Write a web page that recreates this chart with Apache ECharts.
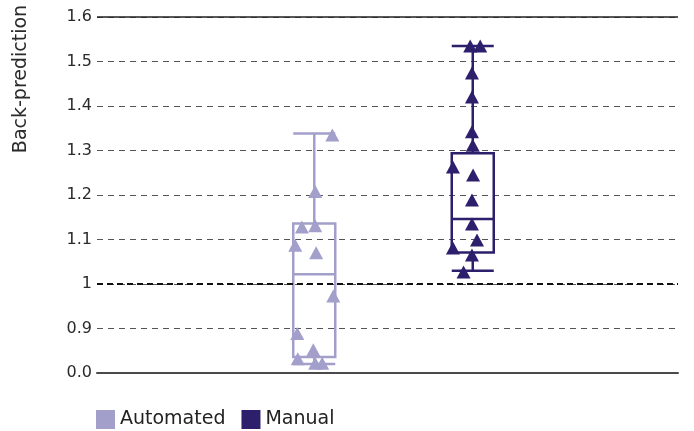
<!DOCTYPE html>
<html>
<head>
<meta charset="utf-8">
<script src="https://cdn.jsdelivr.net/npm/echarts@6/dist/echarts.min.js"></script>
<style>
  html, body { margin: 0; padding: 0; background: #fff; }
  #chart { width: 694px; height: 431px; }
</style>
</head>
<body>
<div id="chart"></div>
<script>
// Groups
const categories = ['Automated', 'Manual'];

// Box summaries: [lower whisker, Q1, median, Q3, upper whisker]
const automatedBox = [0.82, 0.836, 1.022, 1.136, 1.338];
const manualBox = [1.03, 1.071, 1.146, 1.294, 1.535];

// Individual observations: [horizontal jitter within group, value]
const automatedPoints = [
  [0.114, 1.335], [0.006, 1.208], [-0.078, 1.128], [0.006, 1.131],
  [-0.120, 1.087], [0.012, 1.070], [0.120, 0.973], [-0.107, 0.889],
  [-0.104, 0.832], [-0.006, 0.852], [0.006, 0.822], [0.050, 0.822]
];
const manualPoints = [
  [-0.016, 1.535], [0.047, 1.535], [-0.005, 1.474], [-0.005, 1.420],
  [-0.005, 1.342], [0.000, 1.312], [-0.125, 1.263], [0.002, 1.245],
  [-0.005, 1.189], [-0.005, 1.135], [0.027, 1.099], [-0.125, 1.081],
  [-0.005, 1.065], [-0.058, 1.027]
];

// Y tick labels from the bottom (0.8) up to 1.6
const yTickLabels = ['0.0', '0.9', '1', '1.1', '1.2', '1.3', '1.4', '1.5', '1.6'];

const lightColor = '#a29fcb';
const darkColor = '#2d1f6c';
const fontFamily = '"DejaVu Sans", sans-serif';

function shift(points, base) {
  return points.map(p => [base + p[0], p[1]]);
}

const chart = echarts.init(document.getElementById('chart'));
chart.setOption({
  animation: false,
  textStyle: { fontFamily: fontFamily },
  grid: [
    { left: 97, right: 16, top: 17, bottom: 58 },
    { left: 235, width: 317, top: 17, bottom: 58 }
  ],
  xAxis: [
    {
      gridIndex: 0, type: 'value', min: 0, max: 1, position: 'bottom',
      axisLine: { show: true, lineStyle: { color: '#4a4a4a', width: 2 } },
      axisTick: { show: false }, axisLabel: { show: false }, splitLine: { show: false }
    },
    {
      gridIndex: 1, type: 'category', data: categories, boundaryGap: true,
      axisLine: { show: false }, axisTick: { show: false }, axisLabel: { show: false }, splitLine: { show: false }
    },
    {
      gridIndex: 1, type: 'value', min: -0.5, max: 1.5,
      axisLine: { show: false }, axisTick: { show: false }, axisLabel: { show: false }, splitLine: { show: false }
    }
  ],
  yAxis: [
    {
      gridIndex: 0, type: 'value', min: 0.8, max: 1.6, interval: 0.1,
      axisLine: { show: false }, axisTick: { show: false },
      axisLabel: {
        margin: 5, fontSize: 16, color: '#2a2a2a',
        formatter: v => yTickLabels[Math.round((v - 0.8) / 0.1)]
      },
      splitLine: { show: true, lineStyle: { color: '#555', width: 1, type: [6, 5] } }
    },
    {
      gridIndex: 1, type: 'value', min: 0.8, max: 1.6,
      axisLine: { show: false }, axisTick: { show: false }, axisLabel: { show: false }, splitLine: { show: false }
    }
  ],
  legend: {
    left: 91, top: 405, itemWidth: 19, itemHeight: 19, itemGap: 16, icon: 'rect',
    textStyle: { fontSize: 19, color: '#222', fontFamily: fontFamily },
    data: [
      { name: 'Automated', itemStyle: { color: lightColor, borderWidth: 0 } },
      { name: 'Manual', itemStyle: { color: darkColor, borderWidth: 0 } }
    ]
  },
  graphic: [{
    type: 'text', x: 21, y: 79, rotation: Math.PI / 2,
    style: {
      text: 'Back-prediction', fontSize: 19, fill: '#2a2a2a', fontFamily: fontFamily,
      textAlign: 'center', textVerticalAlign: 'middle'
    }
  }],
  series: [
    {
      // reference lines: top border and the 1.0 line
      type: 'line', xAxisIndex: 0, yAxisIndex: 0, data: [], silent: true,
      markLine: {
        symbol: 'none', silent: true, label: { show: false },
        data: [
          { yAxis: 1.6, lineStyle: { color: '#222', width: 1.5, type: 'solid' } },
          { yAxis: 1.0, lineStyle: { color: '#111', width: 2, type: [6, 4] } }
        ]
      }
    },
    {
      name: 'boxes', type: 'boxplot', xAxisIndex: 1, yAxisIndex: 1,
      boxWidth: [42, 42],
      itemStyle: { color: 'rgba(0,0,0,0)', borderWidth: 2.5 },
      data: [
        { value: automatedBox, itemStyle: { borderColor: lightColor } },
        { value: manualBox, itemStyle: { borderColor: darkColor } }
      ]
    },
    {
      name: 'Automated', type: 'scatter', xAxisIndex: 2, yAxisIndex: 1,
      symbol: 'triangle', symbolSize: [14, 13],
      itemStyle: { color: lightColor, opacity: 1 },
      data: shift(automatedPoints, 0)
    },
    {
      name: 'Manual', type: 'scatter', xAxisIndex: 2, yAxisIndex: 1,
      symbol: 'triangle', symbolSize: [14, 13],
      itemStyle: { color: darkColor, opacity: 1 },
      data: shift(manualPoints, 1)
    }
  ]
});
</script>
</body>
</html>
